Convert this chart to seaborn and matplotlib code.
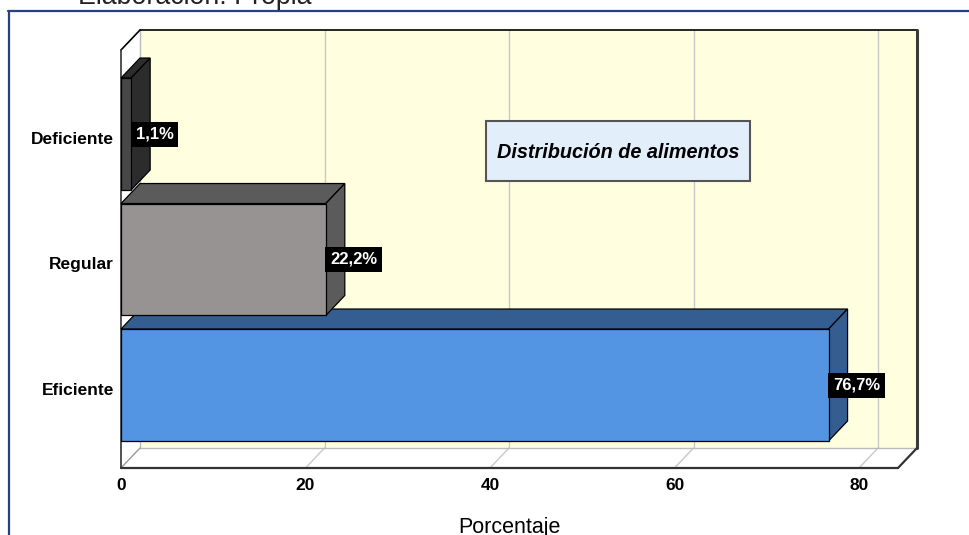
import numpy as np
import pandas as pd
import seaborn as sns
import matplotlib.pyplot as plt
from matplotlib.patches import Polygon, Rectangle
from matplotlib.lines import Line2D
from matplotlib.transforms import ScaledTranslation

# ---- data ----
categories = ["Deficiente", "Regular", "Eficiente"]
values = [1.1, 22.2, 76.7]
value_labels = ["1,1%", "22,2%", "76,7%"]
xticks = [0, 20, 40, 60, 80]
front_colors = ["#474747", "#979392", "#5394E3"]
shade_colors = ["#2C2C2C", "#5B5B5B", "#345E92"]
box_title = "Distribución de alimentos"
x_title = "Porcentaje"
top_note = "Elaboración: Propia"

sns.set_style("white")
plt.rcParams['font.family'] = ['Liberation Sans', 'DejaVu Sans']
plt.rcParams['text.color'] = 'black'
plt.rcParams['axes.labelcolor'] = 'black'
plt.rcParams['xtick.color'] = 'black'
plt.rcParams['ytick.color'] = 'black'

W, H = 969, 535
fig = plt.figure(figsize=(W / 100, H / 100), dpi=100)

# front plane of the pseudo-3D plot, in pixels
L, R, T, B = 121, 898, 50, 468
PX_PER_X = 9.225
YSTEP = 125.5
DX, DY = 19, 20  # depth offset in pixels

ax = fig.add_axes([L / W, (H - B) / H, (R - L) / W, (B - T) / H])

df = pd.DataFrame({"Categoria": categories, "Porcentaje": values})
sns.barplot(data=df, x="Porcentaje", y="Categoria", hue="Categoria",
            order=categories, hue_order=categories, palette=front_colors,
            saturation=1, width=0.892, orient="h", legend=False, ax=ax,
            edgecolor="black", linewidth=0.9)

XMAX = (R - L) / PX_PER_X
ymin = -(134 - T) / YSTEP
ymax = ymin + (B - T) / YSTEP
ax.set_xlim(0, XMAX)
ax.set_ylim(ymax, ymin)

dx = DX / PX_PER_X
dy = DY / YSTEP

ax.patch.set_visible(False)
for s in ax.spines.values():
    s.set_visible(False)
ax.grid(False)

# back wall
ax.add_patch(Polygon([(dx, ymin - dy), (XMAX + dx, ymin - dy),
                      (XMAX + dx, ymax - dy), (dx, ymax - dy)],
                     closed=True, fc="#FFFFE0", ec="none", zorder=0.5, clip_on=False))
ax.add_line(Line2D([dx, XMAX + dx], [ymin - dy, ymin - dy], color="black", lw=1.2,
                   zorder=0.9, clip_on=False))
ax.add_line(Line2D([XMAX + dx, XMAX + dx], [ymin - dy, ymax - dy], color="#3A3A3A", lw=2.2,
                   zorder=0.9, clip_on=False))
# left wall
ax.add_patch(Polygon([(0, ymin), (dx, ymin - dy), (dx, ymax - dy), (0, ymax)],
                     closed=True, fc="white", ec="none", zorder=0.6, clip_on=False))
ax.add_line(Line2D([dx, dx], [ymin - dy, ymax - dy], color="#BBBBBB", lw=1,
                   zorder=0.8, clip_on=False))
ax.add_line(Line2D([0, dx], [ymin, ymin - dy], color="black", lw=1.2, zorder=0.9, clip_on=False))
ax.add_line(Line2D([0, 0], [ymin, ymax], color="#333333", lw=1.2, zorder=0.9, clip_on=False))
# floor
ax.add_patch(Polygon([(0, ymax), (XMAX, ymax), (XMAX + dx, ymax - dy), (dx, ymax - dy)],
                     closed=True, fc="white", ec="none", zorder=0.6, clip_on=False))
ax.add_line(Line2D([dx, XMAX + dx], [ymax - dy, ymax - dy], color="#BBBBBB", lw=1,
                   zorder=0.8, clip_on=False))
ax.add_line(Line2D([0, dx], [ymax, ymax - dy], color="#999999", lw=1, zorder=0.8, clip_on=False))
ax.add_line(Line2D([0, XMAX], [ymax, ymax], color="#333333", lw=1.6, zorder=0.9, clip_on=False))
ax.add_line(Line2D([XMAX, XMAX + dx], [ymax, ymax - dy], color="#333333", lw=1.6,
                   zorder=0.9, clip_on=False))
# grid lines
for t in xticks[1:]:
    ax.add_line(Line2D([t + dx, t + dx], [ymin - dy, ymax - dy], color="#C8C8C8", lw=1,
                       zorder=0.7, clip_on=False))
    ax.add_line(Line2D([t, t + dx], [ymax, ymax - dy], color="#C8C8C8", lw=1,
                       zorder=0.7, clip_on=False))

# 3D faces of bars + labels
for p in ax.patches[:]:
    if not hasattr(p, "get_width") or p.get_width() == 0:
        continue
    if p.get_zorder() < 1:
        continue
    yc = p.get_y() + p.get_height() / 2
    i = int(round(yc))
    if i < 0 or i >= len(categories):
        continue
    x0, x1 = p.get_x(), p.get_x() + p.get_width()
    yt, yb = p.get_y(), p.get_y() + p.get_height()
    z = 5 - i
    p.set_zorder(z)
    ax.add_patch(Polygon([(x0, yt), (x1, yt), (x1 + dx, yt - dy), (x0 + dx, yt - dy)],
                         closed=True, fc=shade_colors[i], ec="black", lw=0.9,
                         zorder=z - 0.1, clip_on=False))
    ax.add_patch(Polygon([(x1, yt), (x1, yb), (x1 + dx, yb - dy), (x1 + dx, yt - dy)],
                         closed=True, fc=shade_colors[i], ec="black", lw=0.9,
                         zorder=z - 0.1, clip_on=False))
    ax.annotate(value_labels[i], xy=(x1, yc), xytext=(3.2, 0), textcoords="offset points",
                ha="left", va="center", color="white", fontweight="bold", fontsize=12,
                bbox=dict(boxstyle="square,pad=0.3", fc="black", ec="none"),
                zorder=10, annotation_clip=False)

ax.set_xticks(xticks)
ax.set_xticklabels([str(t) for t in xticks], fontweight="bold", fontsize=12.5)
ax.set_yticks(range(len(categories)))
ax.set_yticklabels(categories, fontweight="bold", fontsize=12.5)
ax.tick_params(axis="x", length=0, pad=7, labelcolor="black")
ax.tick_params(axis="y", length=0, pad=5, labelcolor="black")
shift = ScaledTranslation(0, -4 / 100, fig.dpi_scale_trans)
for lab in ax.get_yticklabels():
    lab.set_transform(lab.get_transform() + shift)
ax.set_ylabel("")
ax.set_xlabel(x_title, fontsize=15.5, color="black")
ax.xaxis.label.set_va("baseline")
ax.xaxis.set_label_coords(0.5, -(533 - B) / (B - T))

# title box
bx0, bx1, by0, by1 = 486, 750, 121, 181
fig.patches.append(Rectangle((bx0 / W, 1 - by1 / H), (bx1 - bx0) / W, (by1 - by0) / H,
                             transform=fig.transFigure, fc="#E2EEFA", ec="#555555", lw=1.5,
                             zorder=20))
fig.text((bx0 + bx1) / 2 / W, 1 - 153 / H, box_title, ha="center", va="center",
         fontsize=14.3, fontweight="bold", fontstyle="italic", color="black", zorder=21)

# frame lines and cut-off note
fig.add_artist(Line2D([8 / W, 1], [1 - 10.5 / H, 1 - 10.5 / H], color="#24427F", lw=1.6,
                      transform=fig.transFigure))
fig.add_artist(Line2D([8.5 / W, 8.5 / W], [0, 1 - 10.5 / H], color="#24427F", lw=1.6,
                      transform=fig.transFigure))
fig.text(78 / W, 1 - 3.5 / H, top_note, ha="left", va="baseline", fontsize=19.3, color="#222222")

fig.savefig("out.png", dpi=100)
